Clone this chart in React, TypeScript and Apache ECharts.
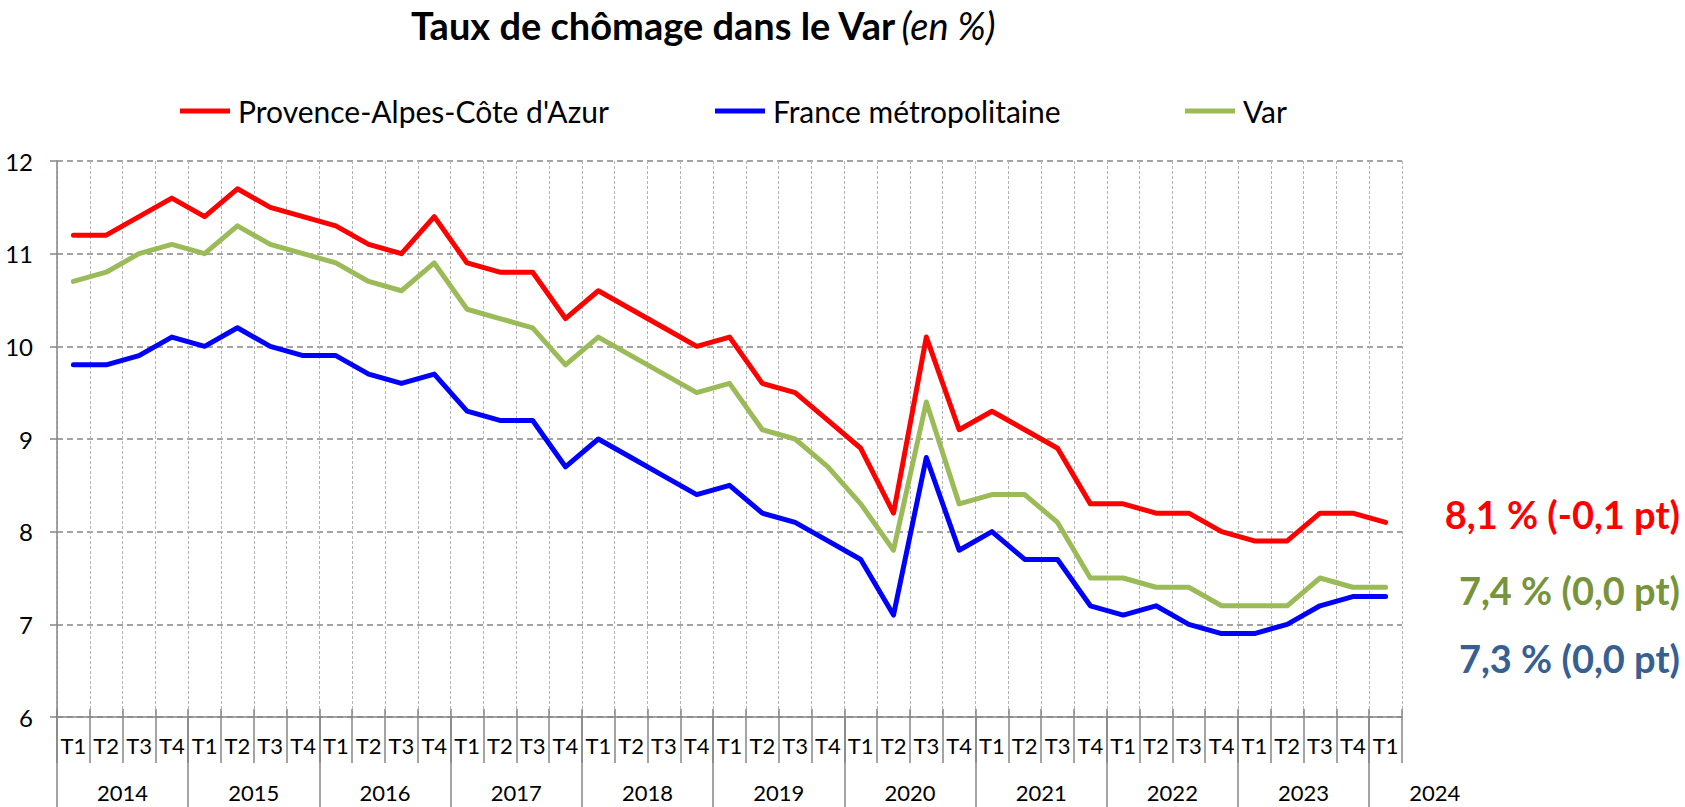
import React, { useEffect, useRef } from "react";
import * as echarts from "echarts";

// ---- Data ----
const years = ["2014", "2015", "2016", "2017", "2018", "2019", "2020", "2021", "2022", "2023", "2024"];
const quarterNames = ["T1", "T2", "T3", "T4"];
const lastYearQuarters = ["T1"]; // 2024 : only T1 available

const periods: string[] = [];
years.forEach((y, yi) => {
  const qs = yi === years.length - 1 ? lastYearQuarters : quarterNames;
  qs.forEach((q) => periods.push(`${y} ${q}`));
});

const pacaSeries = [
  11.2, 11.2, 11.4, 11.6,
  11.4, 11.7, 11.5, 11.4,
  11.3, 11.1, 11.0, 11.4,
  10.9, 10.8, 10.8, 10.3,
  10.6, 10.4, 10.2, 10.0,
  10.1, 9.6, 9.5, 9.2,
  8.9, 8.2, 10.1, 9.1,
  9.3, 9.1, 8.9, 8.3,
  8.3, 8.2, 8.2, 8.0,
  7.9, 7.9, 8.2, 8.2,
  8.1,
];
const franceSeries = [
  9.8, 9.8, 9.9, 10.1,
  10.0, 10.2, 10.0, 9.9,
  9.9, 9.7, 9.6, 9.7,
  9.3, 9.2, 9.2, 8.7,
  9.0, 8.8, 8.6, 8.4,
  8.5, 8.2, 8.1, 7.9,
  7.7, 7.1, 8.8, 7.8,
  8.0, 7.7, 7.7, 7.2,
  7.1, 7.2, 7.0, 6.9,
  6.9, 7.0, 7.2, 7.3,
  7.3,
];
const varSeries = [
  10.7, 10.8, 11.0, 11.1,
  11.0, 11.3, 11.1, 11.0,
  10.9, 10.7, 10.6, 10.9,
  10.4, 10.3, 10.2, 9.8,
  10.1, 9.9, 9.7, 9.5,
  9.6, 9.1, 9.0, 8.7,
  8.3, 7.8, 9.4, 8.3,
  8.4, 8.4, 8.1, 7.5,
  7.5, 7.4, 7.4, 7.2,
  7.2, 7.2, 7.5, 7.4,
  7.4,
];
const yTicks = { min: 6, max: 12, interval: 1 };

const seriesNames = ["Provence-Alpes-Côte d'Azur", "France métropolitaine", "Var"];
const annotations = ["8,1 % (-0,1 pt)", "7,4 % (0,0 pt)", "7,3 % (0,0 pt)"];

// ---- Styles ----
const FONT = "Lato, 'Open Sans', sans-serif";
const AXIS_GREY = "#868686";
const COLORS = { paca: "#ff0000", france: "#0000ff", varc: "#9bbb59" };

export default function App() {
  const ref = useRef<HTMLDivElement>(null);

  useEffect(() => {
    if (!ref.current) return;
    const chart = echarts.init(ref.current, undefined, { renderer: "svg" });

    const LEFT = 57;
    const TOP = 161;
    const WIDTH = 1345;
    const HEIGHT = 556;
    const cw = WIDTH / periods.length;
    const yearsReversed = years.slice().reverse();

    const tickLine = { color: AXIS_GREY, width: 1.5 };

    const option: any = {
      animation: false,
      backgroundColor: "#ffffff",
      title: {
        left: 406,
        top: 1,
        text: "{b|Taux de chômage dans le Var} {i|(en %)}",
        textStyle: {
          rich: {
            b: { fontFamily: FONT, fontWeight: "bold", fontSize: 38, color: "#000" },
            i: { fontFamily: FONT, fontWeight: "normal", fontStyle: "italic", fontSize: 38, color: "#000" },
          },
        },
      },
      legend: [
        { name: 0, left: 175 },
        { name: 1, left: 710 },
        { name: 2, left: 1180 },
      ].map((l) => ({
        data: [seriesNames[l.name]],
        left: l.left,
        top: 91,
        icon: "rect",
        itemWidth: 50,
        itemHeight: 5,
        selectedMode: false,
        textStyle: { fontFamily: FONT, fontSize: 30, color: "#000", padding: [0, 0, 0, 3] },
      })),
      grid: [
        { left: LEFT, top: TOP, width: WIDTH, height: HEIGHT },
        { left: LEFT, top: TOP, width: cw * years.length * 4, height: HEIGHT },
      ],
      xAxis: [
        {
          gridIndex: 0,
          type: "category",
          position: "bottom",
          data: periods,
          boundaryGap: true,
          axisLine: { show: true, lineStyle: tickLine },
          axisTick: { show: true, inside: true, length: 8, interval: 0, lineStyle: tickLine },
          axisLabel: {
            interval: 0,
            formatter: (v: string) => v.split(" ")[1],
            color: "#000",
            fontFamily: FONT,
            fontSize: 22,
            margin: 17,
          },
          splitLine: {
            show: true,
            interval: 0,
            lineStyle: { color: "#b3b3b3", type: [3, 2], width: 1 },
          },
        },
        {
          gridIndex: 0,
          type: "category",
          position: "bottom",
          offset: 0,
          data: periods,
          boundaryGap: true,
          axisLine: { show: false },
          axisTick: { show: true, inside: false, length: 46, interval: 0, lineStyle: tickLine },
          axisLabel: { show: false },
          splitLine: { show: false },
        },
        {
          gridIndex: 1,
          type: "category",
          position: "bottom",
          data: yearsReversed,
          inverse: true,
          boundaryGap: true,
          axisLine: { show: false },
          axisTick: {
            show: true,
            inside: false,
            length: 91,
            interval: (i: number) => i >= 1,
            lineStyle: tickLine,
          },
          axisLabel: {
            interval: 0,
            color: "#000",
            fontFamily: FONT,
            fontSize: 22,
            margin: 64,
          },
          splitLine: { show: false },
        },
      ],
      yAxis: [
        {
          gridIndex: 0,
          type: "value",
          min: yTicks.min,
          max: yTicks.max,
          interval: yTicks.interval,
          axisLine: { show: true, lineStyle: tickLine },
          axisTick: { show: true, length: 7, lineStyle: tickLine },
          axisLabel: { color: "#000", fontFamily: FONT, fontSize: 24, margin: 24 },
          splitLine: { show: true, lineStyle: { color: AXIS_GREY, type: [6, 4], width: 1.5 } },
        },
        {
          gridIndex: 1,
          type: "value",
          min: yTicks.min,
          max: yTicks.max,
          show: false,
        },
      ],
      series: [
        { name: seriesNames[0], data: pacaSeries, color: COLORS.paca },
        { name: seriesNames[1], data: franceSeries, color: COLORS.france },
        { name: seriesNames[2], data: varSeries, color: COLORS.varc },
      ].map((s) => ({
        type: "line",
        name: s.name,
        data: s.data,
        xAxisIndex: 0,
        yAxisIndex: 0,
        symbol: "none",
        itemStyle: { color: s.color },
        lineStyle: { color: s.color, width: 5, cap: "round", join: "round" },
      })),
      graphic: [
        { text: annotations[0], y: 514, fill: "#ff0000" },
        { text: annotations[1], y: 590, fill: "#77933c" },
        { text: annotations[2], y: 658, fill: "#376092" },
      ].map((a) => ({
        type: "text",
        x: 1680,
        y: a.y,
        style: {
          text: a.text,
          fill: a.fill,
          font: `bold 38px ${FONT}`,
          textAlign: "right",
          textVerticalAlign: "middle",
        },
      })),
    };

    chart.setOption(option);
    return () => chart.dispose();
  }, []);

  return (
    <div
      ref={ref}
      style={{ position: "fixed", left: 0, top: 0, width: 1685, height: 807, background: "#fff" }}
    />
  );
}
